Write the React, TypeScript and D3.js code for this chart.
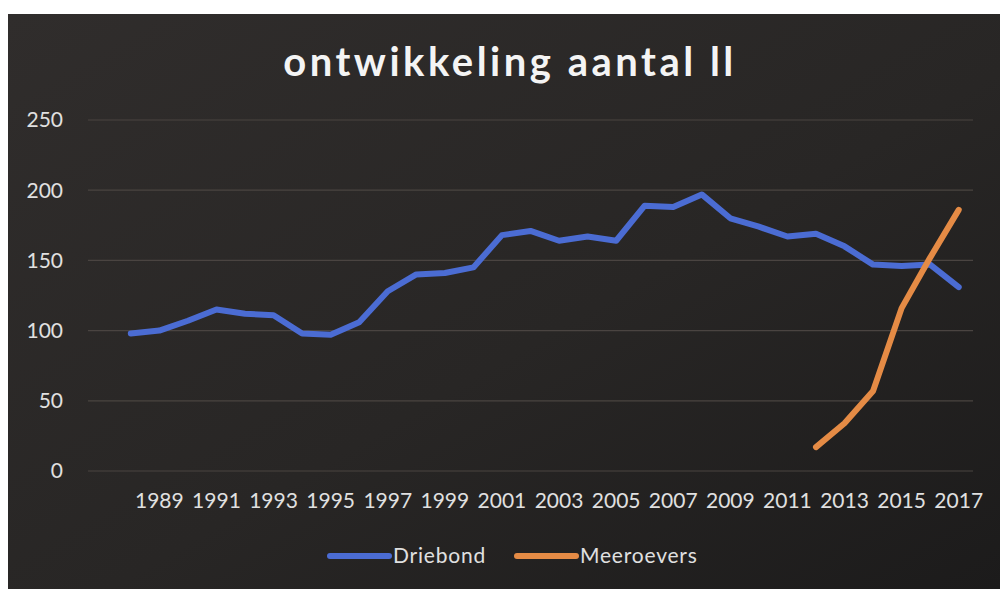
import * as d3 from "d3";
import { useEffect, useRef } from "react";

const years = d3.range(1987, 2018).map(String);
const tickLabels = [
  "1989", "1991", "1993", "1995", "1997", "1999", "2001", "2003",
  "2005", "2007", "2009", "2011", "2013", "2015", "2017",
];
const driebondYears = d3.range(1988, 2018).map(String);
const driebond = [
  98, 100, 107, 115, 112, 111, 98, 97, 106, 128, 140, 141, 145, 168, 171,
  164, 167, 164, 189, 188, 197, 180, 174, 167, 169, 160, 147, 146, 147, 131,
];
const meeroeversYears = ["2012", "2013", "2014", "2015", "2016", "2017"];
const meeroevers = [17, 34, 57, 116, 152, 186];
const yTicks = [0, 50, 100, 150, 200, 250];

const W = 1000;
const H = 589;
const PLOT = { left: 88, right: 973, top: 120, bottom: 471 };
const FONT = "Lato, 'Open Sans', sans-serif";

export default function App() {
  const svgRef = useRef<SVGSVGElement | null>(null);

  useEffect(() => {
    if (!svgRef.current) return;
    const svg = d3.select(svgRef.current);
    svg.selectAll("*").remove();

    const defs = svg.append("defs");
    const grad = defs
      .append("linearGradient")
      .attr("id", "bg")
      .attr("x1", 0)
      .attr("y1", 0)
      .attr("x2", 1)
      .attr("y2", 1);
    grad.append("stop").attr("offset", "0%").attr("stop-color", "#302d2c");
    grad.append("stop").attr("offset", "55%").attr("stop-color", "#282625");
    grad.append("stop").attr("offset", "100%").attr("stop-color", "#1c1b1b");

    svg.append("rect").attr("width", W).attr("height", H).attr("fill", "#fff");
    svg
      .append("rect")
      .attr("x", 8)
      .attr("y", 14)
      .attr("width", W - 8)
      .attr("height", H - 14)
      .attr("fill", "url(#bg)");

    const x = d3
      .scalePoint<string>()
      .domain(years)
      .range([PLOT.left, PLOT.right])
      .padding(0.5);

    const y = d3
      .scaleLinear()
      .domain([0, 250])
      .range([PLOT.bottom, PLOT.top]);

    svg
      .append("text")
      .attr("x", 510)
      .attr("y", 76)
      .attr("text-anchor", "middle")
      .attr("fill", "#f4f4f4")
      .attr("font-family", FONT)
      .attr("font-weight", "bold")
      .attr("font-size", 40)
      .attr("letter-spacing", 3.5)
      .text("ontwikkeling aantal ll");

    const grid = svg.append("g");
    grid
      .selectAll("line")
      .data(yTicks)
      .join("line")
      .attr("x1", PLOT.left)
      .attr("x2", PLOT.right)
      .attr("y1", (d) => y(d))
      .attr("y2", (d) => y(d))
      .attr("stroke", "#4a4441")
      .attr("stroke-width", 1.2);

    svg
      .append("g")
      .selectAll("text")
      .data(yTicks)
      .join("text")
      .attr("x", 63)
      .attr("y", (d) => y(d))
      .attr("dy", "0.35em")
      .attr("text-anchor", "end")
      .attr("fill", "#e0e0e0")
      .attr("font-family", FONT)
      .attr("font-size", 21)
      .text((d) => d);

    svg
      .append("g")
      .selectAll("text")
      .data(tickLabels)
      .join("text")
      .attr("x", (d) => x(d) ?? 0)
      .attr("y", 508)
      .attr("text-anchor", "middle")
      .attr("fill", "#e0e0e0")
      .attr("font-family", FONT)
      .attr("font-size", 21)
      .text((d) => d);

    const line = d3
      .line<[string, number]>()
      .x((d) => x(d[0]) ?? 0)
      .y((d) => y(d[1]));

    const series = [
      { name: "Driebond", color: "#4b6cd3", pts: d3.zip(driebondYears, driebond) },
      { name: "Meeroevers", color: "#e58b45", pts: d3.zip(meeroeversYears, meeroevers) },
    ];

    svg
      .append("g")
      .selectAll("path")
      .data(series)
      .join("path")
      .attr("d", (d) => line(d.pts as [string, number][]))
      .attr("fill", "none")
      .attr("stroke", (d) => d.color)
      .attr("stroke-width", 6)
      .attr("stroke-linecap", "round")
      .attr("stroke-linejoin", "round");

    const legendX = [330, 517];
    const legend = svg
      .append("g")
      .selectAll("g")
      .data(series)
      .join("g")
      .attr("transform", (_, i) => `translate(${legendX[i]},556)`);
    legend
      .append("line")
      .attr("x1", 0)
      .attr("x2", 59)
      .attr("stroke", (d) => d.color)
      .attr("stroke-width", 6)
      .attr("stroke-linecap", "round");
    legend
      .append("text")
      .attr("x", 63)
      .attr("dy", "0.35em")
      .attr("fill", "#e0e0e0")
      .attr("font-family", FONT)
      .attr("font-size", 21)
      .attr("letter-spacing", 0.8)
      .text((d) => d.name);
  }, []);

  return (
    <svg
      ref={svgRef}
      width={W}
      height={H}
      style={{ position: "absolute", left: 0, top: 0 }}
    />
  );
}
